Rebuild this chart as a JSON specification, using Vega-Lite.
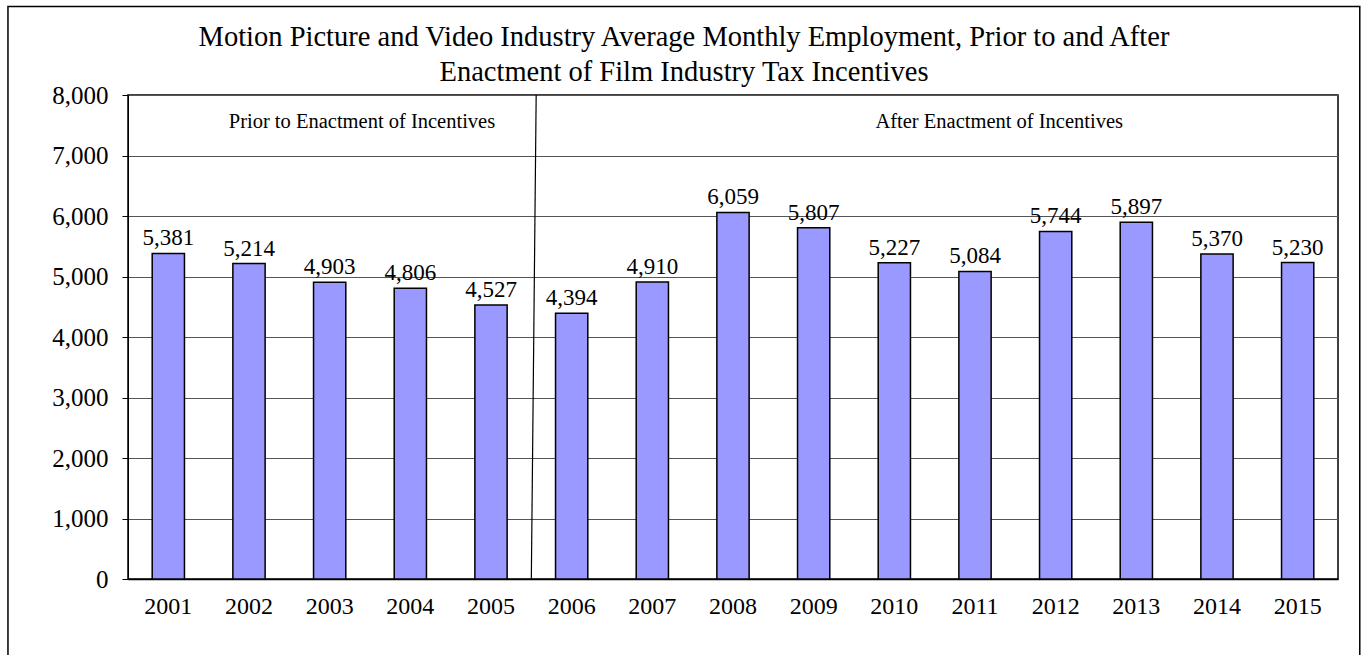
{
  "$schema": "https://vega.github.io/schema/vega-lite/v6.json",
  "width": 1210,
  "height": 484,
  "autosize": {"type": "none"},
  "padding": {"left": 128, "top": 95, "right": 26, "bottom": 76},
  "background": "white",
  "config": {
    "font": "Liberation Serif",
    "view": {"stroke": "black", "strokeWidth": 1.5},
    "axis": {"labelFont": "Liberation Serif", "labelColor": "black"}
  },
  "title": {
    "text": ["Motion Picture and Video Industry Average Monthly Employment, Prior to and After", "Enactment of Film Industry Tax Incentives"],
    "font": "Liberation Serif",
    "fontSize": 28.5,
    "fontWeight": "normal",
    "color": "black",
    "lineHeight": 35,
    "anchor": "middle",
    "frame": "group",
    "dx": -49,
    "offset": -81
  },
  "resolve": {"scale": {"x": "independent"}},
  "layer": [
    {
      "data": {"values": [
        {"year": "2001", "employment": 5381},
        {"year": "2002", "employment": 5214},
        {"year": "2003", "employment": 4903},
        {"year": "2004", "employment": 4806},
        {"year": "2005", "employment": 4527},
        {"year": "2006", "employment": 4394},
        {"year": "2007", "employment": 4910},
        {"year": "2008", "employment": 6059},
        {"year": "2009", "employment": 5807},
        {"year": "2010", "employment": 5227},
        {"year": "2011", "employment": 5084},
        {"year": "2012", "employment": 5744},
        {"year": "2013", "employment": 5897},
        {"year": "2014", "employment": 5370},
        {"year": "2015", "employment": 5230}
      ]},
      "encoding": {
        "x": {
          "field": "year", "type": "nominal", "sort": null,
          "scale": {"paddingInner": 0.6, "paddingOuter": 0.3},
          "axis": {"title": null, "labelAngle": 0, "ticks": false, "labelFontSize": 24, "labelPadding": 15, "domainColor": "black", "domainWidth": 1.5}
        },
        "y": {
          "field": "employment", "type": "quantitative",
          "scale": {"domain": [0, 8000], "nice": false},
          "axis": {"title": null, "values": [0, 1000, 2000, 3000, 4000, 5000, 6000, 7000, 8000], "labelExpr": "format(datum.value, ',')", "labelFontSize": 25, "labelPadding": 14, "tickSize": 6, "tickColor": "black", "domainColor": "black", "gridColor": "#555555", "gridWidth": 1, "grid": true}
        }
      },
      "layer": [
        {"mark": {"type": "bar", "fill": "#9999FF", "stroke": "black", "strokeWidth": 1.5}},
        {"mark": {"type": "text", "baseline": "alphabetic", "dy": -8, "fontSize": 23, "color": "black", "font": "Liberation Serif"},
         "encoding": {"text": {"field": "employment", "type": "quantitative", "format": ","}}}
      ]
    },
    {
      "layer": [
        {
          "data": {"values": [{"px": 5.06, "px2": 5.0, "py": 8000, "py2": 0}]},
          "mark": {"type": "rule", "color": "black", "strokeWidth": 1.2},
          "encoding": {
            "x": {"field": "px", "type": "quantitative", "scale": {"domain": [0, 15], "nice": false, "zero": false}, "axis": null},
            "x2": {"field": "px2"},
            "y": {"field": "py", "type": "quantitative", "axis": {"title": null, "values": [0, 1000, 2000, 3000, 4000, 5000, 6000, 7000, 8000], "labelExpr": "format(datum.value, ',')", "labelFontSize": 25, "labelPadding": 14, "tickSize": 6, "tickColor": "black", "domainColor": "black", "gridColor": "#555555", "gridWidth": 1, "grid": true}},
            "y2": {"field": "py2"}
          }
        },
        {
          "data": {"values": [
            {"px": 2.9, "py": 7462, "label": "Prior to Enactment of Incentives"},
            {"px": 10.8, "py": 7462, "label": "After Enactment of Incentives"}
          ]},
          "mark": {"type": "text", "baseline": "alphabetic", "align": "center", "fontSize": 20.5, "color": "black", "font": "Liberation Serif"},
          "encoding": {
            "x": {"field": "px", "type": "quantitative", "axis": null},
            "y": {"field": "py", "type": "quantitative", "axis": {"title": null, "values": [0, 1000, 2000, 3000, 4000, 5000, 6000, 7000, 8000], "labelExpr": "format(datum.value, ',')", "labelFontSize": 25, "labelPadding": 14, "tickSize": 6, "tickColor": "black", "domainColor": "black", "gridColor": "#555555", "gridWidth": 1, "grid": true}},
            "text": {"field": "label", "type": "nominal"}
          }
        },
        {
          "data": {"values": [{"px": -1.488, "px2": 15.27, "py": 9464, "py2": -1423}]},
          "mark": {"type": "rect", "fill": null, "fillOpacity": 0, "stroke": "black", "strokeWidth": 1.5},
          "encoding": {
            "x": {"field": "px", "type": "quantitative", "axis": null},
            "x2": {"field": "px2"},
            "y": {"field": "py", "type": "quantitative", "axis": {"title": null, "values": [0, 1000, 2000, 3000, 4000, 5000, 6000, 7000, 8000], "labelExpr": "format(datum.value, ',')", "labelFontSize": 25, "labelPadding": 14, "tickSize": 6, "tickColor": "black", "domainColor": "black", "gridColor": "#555555", "gridWidth": 1, "grid": true}},
            "y2": {"field": "py2"}
          }
        }
      ]
    }
  ]
}
